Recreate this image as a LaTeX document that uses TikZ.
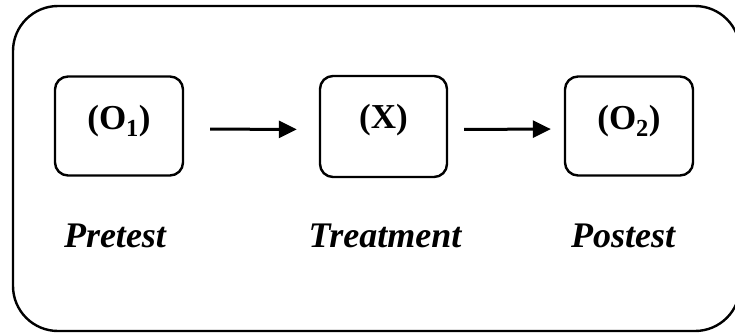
\documentclass[tikz,border=0pt]{standalone}
\usepackage{fontspec}
\setmainfont{Liberation Serif}
\usetikzlibrary{arrows.meta}
\tikzset{
  stagebox/.style={draw, line width=2.4pt, rounded corners=13pt, minimum width=128pt, minimum height=99pt, inner sep=0pt},
  boxtext/.style={inner sep=0pt, font=\fontsize{35}{40}\selectfont\bfseries},
  stagelabel/.style={inner sep=0pt, anchor=base, font=\fontsize{36}{40}\selectfont\bfseries\itshape},
  flowarrow/.style={line width=3pt, -{Triangle[length=18pt,width=17pt]}},
  frame/.style={draw, line width=2.4pt, rounded corners=45pt}
}
\begin{document}
\begin{tikzpicture}[x=1pt,y=-1pt]
\useasboundingbox (0,0) rectangle (735,333);
\clip (0,0) rectangle (735,333);
\draw[frame] (13,6) rectangle (740,331);
\node[stagebox] (o1) at (119,126) {};
\node[stagebox, minimum width=127pt, minimum height=101pt] (x) at (383.5,126.5) {};
\node[stagebox] (o2) at (629,126) {};
\node[boxtext] (t1) at (119,121) {(O\textsubscript{1})};
\node[boxtext] (tx) at (383.5,120) {(X)};
\node[boxtext] (t2) at (629,121) {(O\textsubscript{2})};
\node[stagelabel] (l1) at (115,247) {Pretest};
\node[stagelabel] (l2) at (385,247) {Treatment};
\node[stagelabel] (l3) at (623,247) {Postest};
\draw[flowarrow, shorten <=26pt, shorten >=22pt] ([yshift=-3pt]o1.east) -- ([yshift=-3pt]x.west);
\draw[flowarrow, shorten <=16pt, shorten >=13pt] ([yshift=-3pt]x.east) -- ([yshift=-3pt]o2.west);
\end{tikzpicture}
\end{document}
